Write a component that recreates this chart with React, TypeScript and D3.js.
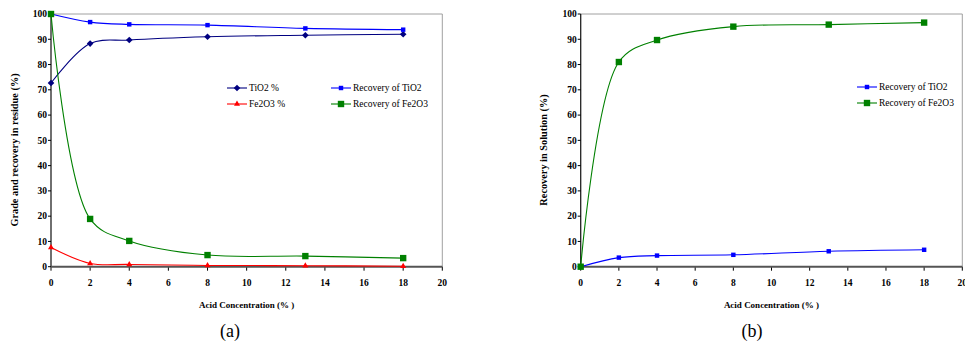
import React, { useRef, useEffect } from "react";
import * as d3 from "d3";

// acid concentration (%), shared x values of both panels
const acid = [0, 2, 4, 8, 13, 18];

// panel (a): residue
const tio2Grade = [72.7, 88.3, 89.7, 91.0, 91.6, 92.0];
const tio2RecResidue = [100, 96.8, 95.9, 95.6, 94.3, 93.8];
const fe2o3Grade = [7.6, 1.3, 0.9, 0.5, 0.4, 0.2];
const fe2o3RecResidue = [100, 18.9, 10.2, 4.6, 4.2, 3.4];

// panel (b): solution
const tio2RecSolution = [0, 3.6, 4.4, 4.7, 6.1, 6.7];
const fe2o3RecSolution = [0, 81.0, 89.7, 95.0, 95.8, 96.6];

const xTicks = [0, 2, 4, 6, 8, 10, 12, 14, 16, 18, 20];
const yTicks = [0, 10, 20, 30, 40, 50, 60, 70, 80, 90, 100];

const FONT = "'Liberation Serif', 'Times New Roman', serif";

type Series = {
  name: string;
  values: number[];
  color: string;
  marker: "diamond" | "square" | "bigsquare" | "triangle";
};

const markerPath: Record<string, string> = {
  diamond: d3.symbol(d3.symbolDiamond2, 28)() as string,
  square: d3.symbol(d3.symbolSquare2, 25)() as string,
  bigsquare: d3.symbol(d3.symbolSquare2, 52)() as string,
  triangle: d3.symbol(d3.symbolTriangle2, 26)() as string,
};

function drawPanel(
  svg: d3.Selection<SVGSVGElement, unknown, null, undefined>,
  opts: {
    left: number;
    right: number;
    yTitle: string;
    yTitleX: number;
    caption: string;
    captionX: number;
    series: Series[];
    legend: { name: string; color: string; marker: string; x: number; y: number }[];
  }
) {
  const top = 14,
    bottom = 266.7;
  const x = d3.scaleLinear().domain([0, 20]).range([opts.left, opts.right]);
  const y = d3.scaleLinear().domain([0, 100]).range([bottom, top]);
  const g = svg.append("g");

  // plot frame (top + right in light gray)
  g.append("path")
    .attr("d", `M${x(0)},${y(100)}H${x(20)}V${y(0)}`)
    .attr("fill", "none")
    .attr("stroke", "#a0a0a0")
    .attr("stroke-width", 1);

  // y axis
  g.append("line")
    .attr("x1", x(0)).attr("x2", x(0))
    .attr("y1", y(0)).attr("y2", y(100))
    .attr("stroke", "#222").attr("stroke-width", 1.3);
  yTicks.forEach((t) => {
    g.append("line")
      .attr("x1", x(0) - 3).attr("x2", x(0))
      .attr("y1", y(t)).attr("y2", y(t))
      .attr("stroke", "#000");
    g.append("text")
      .attr("x", x(0) - 4)
      .attr("y", y(t))
      .attr("dy", "0.35em")
      .attr("text-anchor", "end")
      .attr("font-family", FONT)
      .attr("font-weight", "bold")
      .attr("font-size", 9.5)
      .text(t);
  });

  // x axis
  xTicks.forEach((t) => {
    g.append("line")
      .attr("x1", x(t)).attr("x2", x(t))
      .attr("y1", y(0)).attr("y2", y(0) + 4)
      .attr("stroke", "#000");
    g.append("text")
      .attr("x", x(t))
      .attr("y", 286)
      .attr("text-anchor", "middle")
      .attr("font-family", FONT)
      .attr("font-weight", "bold")
      .attr("font-size", 9.5)
      .text(t);
  });
  g.append("line")
    .attr("x1", x(0)).attr("x2", x(20))
    .attr("y1", y(0)).attr("y2", y(0))
    .attr("stroke", "#555").attr("stroke-width", 2);

  // titles
  g.append("text")
    .attr("x", (opts.left + opts.right) / 2)
    .attr("y", 308)
    .attr("text-anchor", "middle")
    .attr("font-family", FONT)
    .attr("font-weight", "bold")
    .attr("font-size", 9)
    .text("Acid Concentration (% )");
  g.append("text")
    .attr("transform", `translate(${opts.yTitleX},150) rotate(-90)`)
    .attr("text-anchor", "middle")
    .attr("dy", "0.35em")
    .attr("font-family", FONT)
    .attr("font-weight", "bold")
    .attr("font-size", 10.3)
    .text(opts.yTitle);
  g.append("text")
    .attr("x", opts.captionX)
    .attr("y", 337)
    .attr("text-anchor", "middle")
    .attr("font-family", FONT)
    .attr("font-size", 18)
    .text(opts.caption);

  // smoothed lines (Excel style)
  const line = d3
    .line<number>()
    .x((_, i) => x(acid[i]))
    .y((d) => y(d))
    .curve(d3.curveCatmullRom.alpha(0.5));

  opts.series.forEach((s) => {
    g.append("path")
      .attr("d", line(s.values))
      .attr("fill", "none")
      .attr("stroke", s.color)
      .attr("stroke-width", 1.1);
  });
  opts.series.forEach((s) => {
    g.selectAll(null)
      .data(s.values)
      .enter()
      .append("path")
      .attr("d", markerPath[s.marker])
      .attr("transform", (d, i) => `translate(${x(acid[i])},${y(d)})`)
      .attr("fill", s.color);
  });

  // legend
  opts.legend.forEach((l) => {
    g.append("line")
      .attr("x1", l.x).attr("x2", l.x + 20)
      .attr("y1", l.y).attr("y2", l.y)
      .attr("stroke", l.color).attr("stroke-width", 1.1);
    g.append("path")
      .attr("d", markerPath[l.marker])
      .attr("transform", `translate(${l.x + 10},${l.y})`)
      .attr("fill", l.color);
    g.append("text")
      .attr("x", l.x + 22)
      .attr("y", l.y)
      .attr("dy", "0.33em")
      .attr("font-family", FONT)
      .attr("font-size", 9.5)
      .text(l.name);
  });
}

function App() {
  const ref = useRef<SVGSVGElement>(null);

  useEffect(() => {
    const svg = d3.select(ref.current as SVGSVGElement);
    svg.selectAll("*").remove();

    drawPanel(svg, {
      left: 51,
      right: 442.3,
      yTitle: "Grade and recovery in residue (%)",
      yTitleX: 14,
      caption: "(a)",
      captionX: 230,
      series: [
        { name: "TiO2 %", values: tio2Grade, color: "#000080", marker: "diamond" },
        { name: "Recovery of TiO2", values: tio2RecResidue, color: "#0000ff", marker: "square" },
        { name: "Fe2O3 %", values: fe2o3Grade, color: "#ff0000", marker: "triangle" },
        { name: "Recovery of Fe2O3", values: fe2o3RecResidue, color: "#008000", marker: "bigsquare" },
      ],
      legend: [
        { name: "TiO2 %", color: "#000080", marker: "diamond", x: 227, y: 88 },
        { name: "Fe2O3 %", color: "#ff0000", marker: "triangle", x: 227, y: 104 },
        { name: "Recovery of TiO2", color: "#0000ff", marker: "square", x: 331, y: 88 },
        { name: "Recovery of Fe2O3", color: "#008000", marker: "bigsquare", x: 331, y: 104 },
      ],
    });

    drawPanel(svg, {
      left: 580.7,
      right: 962.3,
      yTitle: "Recovery in Solution (%)",
      yTitleX: 543,
      caption: "(b)",
      captionX: 752,
      series: [
        { name: "Recovery of TiO2", values: tio2RecSolution, color: "#0000ff", marker: "square" },
        { name: "Recovery of Fe2O3", values: fe2o3RecSolution, color: "#008000", marker: "bigsquare" },
      ],
      legend: [
        { name: "Recovery of TiO2", color: "#0000ff", marker: "square", x: 857, y: 87 },
        { name: "Recovery of Fe2O3", color: "#008000", marker: "bigsquare", x: 857, y: 103 },
      ],
    });
  }, []);

  return (
    <svg
      ref={ref}
      width={965}
      height={344}
      style={{ position: "absolute", left: 0, top: 0, background: "#fff" }}
    />
  );
}

export default App;
